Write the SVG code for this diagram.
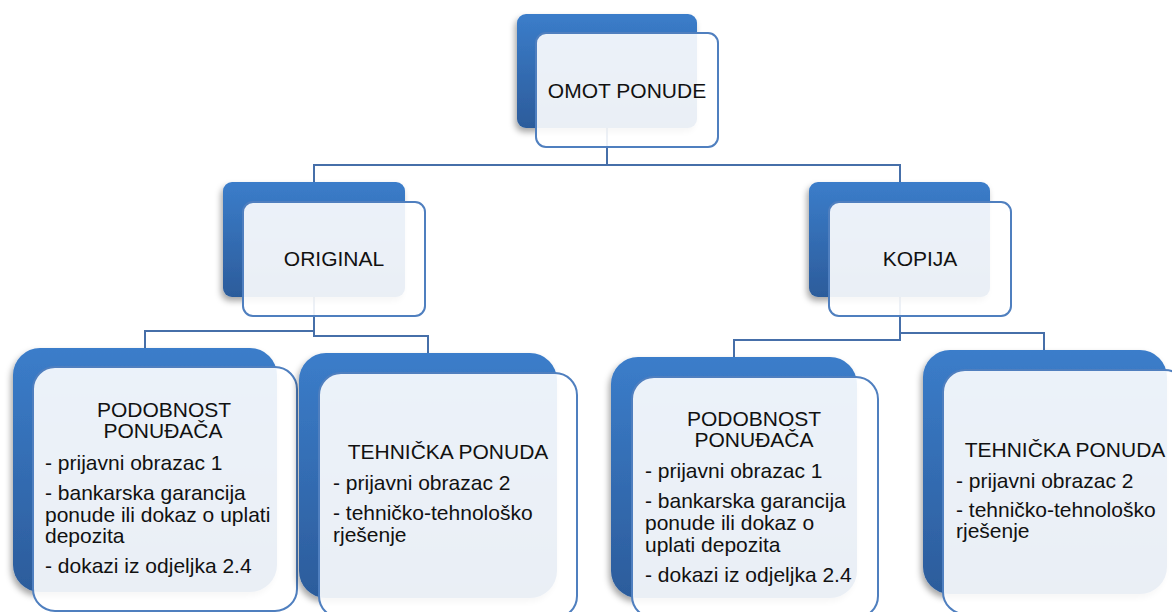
<svg xmlns="http://www.w3.org/2000/svg" width="1172" height="612" viewBox="0 0 1172 612">
<defs>
<linearGradient id="g" x1="0" y1="0" x2="0" y2="1">
<stop offset="0" stop-color="#3b7dca"/>
<stop offset="1" stop-color="#2c5c9b"/>
</linearGradient>
<filter id="sh" x="-10%" y="-10%" width="120%" height="125%">
<feDropShadow dx="-2" dy="4" stdDeviation="3" flood-color="#000" flood-opacity="0.35"/>
</filter>
</defs>
<style>
.back{fill:url(#g);filter:url(#sh)}
.front{fill:#ffffff;fill-opacity:0.9;stroke:#4f7fbf;stroke-width:2}
.conn{fill:none;stroke:#466fa9;stroke-width:2}
text{font-family:"Liberation Sans",Arial,sans-serif;font-size:21px;fill:#111}
.c{text-anchor:middle}
</style>
<g id="connectors">
<path class="conn" d="M607,128 V165 H314 V182"/>
<path class="conn" d="M607,128 V165 H900 V182"/>
<path class="conn" d="M314,297 V331 H145 V348"/>
<path class="conn" d="M314,297 V336 H428 V353"/>
<path class="conn" d="M900,297 V340 H734 V357"/>
<path class="conn" d="M900,297 V333 H1044 V350"/>
</g>
<g id="omot">
<rect class="back" x="517" y="14" width="180" height="114" rx="9"/>
<rect class="front" x="536" y="33" width="182" height="114" rx="10"/>
<text class="c" x="627" y="98">OMOT PONUDE</text>
</g>
<g id="original">
<rect class="back" x="223" y="182" width="182" height="115" rx="9"/>
<rect class="front" x="243" y="202" width="182" height="114" rx="10"/>
<text class="c" x="334" y="266">ORIGINAL</text>
</g>
<g id="kopija">
<rect class="back" x="809" y="182" width="181" height="115" rx="9"/>
<rect class="front" x="829" y="202" width="182" height="114" rx="10"/>
<text class="c" x="920" y="266">KOPIJA</text>
</g>
<g id="podobnost-original">
<rect class="back" x="13" y="348" width="264" height="244" rx="27"/>
<rect class="front" x="33" y="367" width="264" height="244" rx="22"/>
<text class="c" x="164" y="417">PODOBNOST</text>
<text class="c" x="163" y="438">PONUĐAČA</text>
<text x="45" y="470">- prijavni obrazac 1</text>
<text x="45" y="500">- bankarska garancija</text>
<text x="45" y="522">ponude ili dokaz o uplati</text>
<text x="45" y="543">depozita</text>
<text x="45" y="573">- dokazi iz odjeljka 2.4</text>
</g>
<g id="tehnicka-original">
<rect class="back" x="299" y="353" width="258" height="245" rx="27"/>
<rect class="front" x="319" y="373" width="258" height="245" rx="22"/>
<text class="c" x="448" y="459">TEHNIČKA PONUDA</text>
<text x="333" y="490">- prijavni obrazac 2</text>
<text x="333" y="520">- tehničko-tehnološko</text>
<text x="333" y="542">rješenje</text>
</g>
<g id="podobnost-kopija">
<rect class="back" x="611" y="357" width="246" height="241" rx="27"/>
<rect class="front" x="632" y="377" width="246" height="241" rx="22"/>
<text class="c" x="754" y="426">PODOBNOST</text>
<text class="c" x="754" y="447">PONUĐAČA</text>
<text x="645" y="478">- prijavni obrazac 1</text>
<text x="645" y="508">- bankarska garancija</text>
<text x="645" y="530">ponude ili dokaz o</text>
<text x="645" y="552">uplati depozita</text>
<text x="645" y="582">- dokazi iz odjeljka 2.4</text>
</g>
<g id="tehnicka-kopija">
<rect class="back" x="923" y="350" width="244" height="244" rx="27"/>
<rect class="front" x="943" y="370" width="244" height="244" rx="22"/>
<text class="c" x="1065" y="457">TEHNIČKA PONUDA</text>
<text x="956" y="488">- prijavni obrazac 2</text>
<text x="956" y="517">- tehničko-tehnološko</text>
<text x="956" y="538">rješenje</text>
</g>
</svg>
